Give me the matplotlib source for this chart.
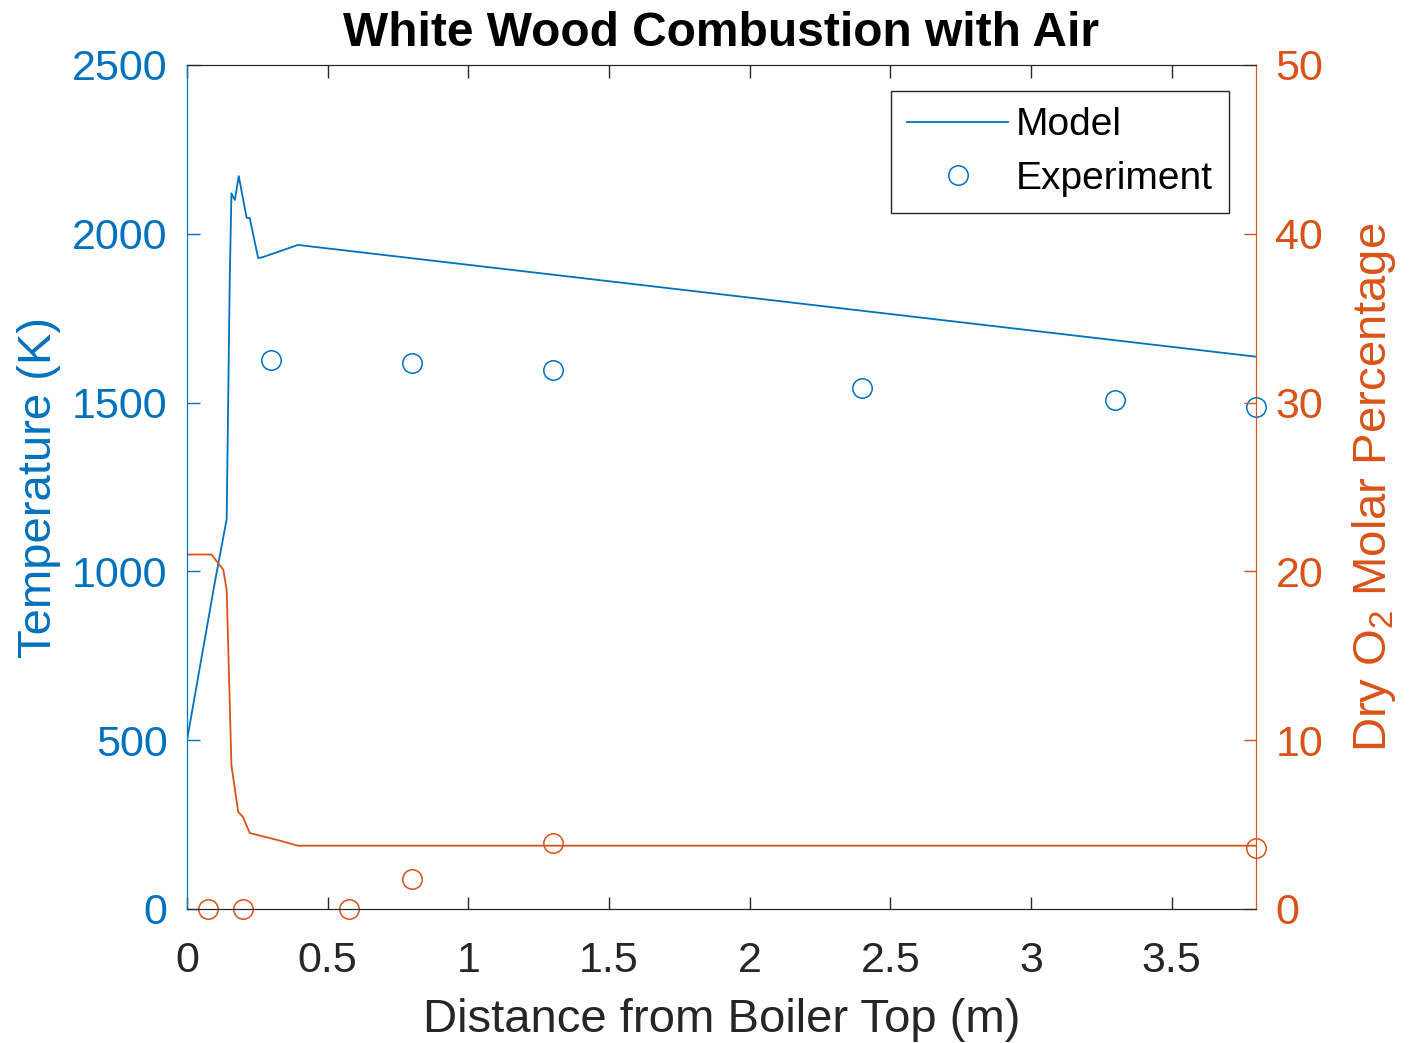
import numpy as np
import matplotlib
matplotlib.use('Agg')
import matplotlib.pyplot as plt
from matplotlib.ticker import FuncFormatter

plt.rcParams['font.family'] = ['Liberation Sans', 'DejaVu Sans']
plt.rcParams['mathtext.fontset'] = 'custom'
plt.rcParams['mathtext.rm'] = 'Liberation Sans'
plt.rcParams['mathtext.it'] = 'Liberation Sans'

# model profiles along the boiler
model_x_T = [0, 0.099, 0.141, 0.152, 0.158, 0.170, 0.184, 0.212, 0.223, 0.253, 0.270, 0.353, 0.394, 3.8]
model_T = [500, 968, 1155, 1868, 2120, 2100, 2171, 2047, 2047, 1928, 1931, 1955, 1967, 1636]
model_x_O2 = [0, 0.087, 0.129, 0.141, 0.158, 0.182, 0.199, 0.223, 0.330, 0.394, 3.8]
model_O2 = [21.0, 21.0, 20.1, 18.9, 8.5, 5.75, 5.45, 4.5, 4.05, 3.75, 3.75]

# measured points
exp_x_T = [0.3, 0.8, 1.3, 2.4, 3.3, 3.8]
exp_T = [1627, 1618, 1597, 1544, 1508, 1488]
exp_x_O2 = [0.075, 0.2, 0.575, 0.8, 1.3, 3.8]
exp_O2 = [0, 0, 0, 1.8, 3.9, 3.6]

blue = '#0072BD'
orange = '#D95319'
dark = '#262626'

fig = plt.figure(figsize=(14.14, 10.43), dpi=100)
ax = fig.add_axes([187/1414, 1-909/1043, (1256-187)/1414, (909-65)/1043])
ax2 = ax.twinx()

l1, = ax.plot(model_x_T, model_T, color=blue, lw=1.3, label='Model')
m1, = ax.plot(exp_x_T, exp_T, 'o', mfc='none', mec=blue, ms=14, mew=1.1,
              clip_on=False, label='Experiment')
ax2.plot(model_x_O2, model_O2, color=orange, lw=1.3)
ax2.plot(exp_x_O2, exp_O2, 'o', mfc='none', mec=orange, ms=14, mew=1.1, clip_on=False)

ax.set_xlim(0, 3.8)
ax.set_ylim(0, 2500)
ax2.set_ylim(0, 50)
ax.set_xticks(np.arange(0, 3.51, 0.5))
ax.set_yticks(np.arange(0, 2501, 500))
ax2.set_yticks(np.arange(0, 51, 10))
ax.xaxis.set_major_formatter(FuncFormatter(lambda v, p: '%g' % v))

ax.tick_params(axis='x', direction='in', length=9, width=1, colors=dark,
               labelsize=31, pad=23, top=True)
ax.tick_params(axis='y', direction='in', length=9, width=1, colors=blue,
               labelsize=31, pad=14)
ax2.tick_params(axis='y', direction='in', length=9, width=1, colors=orange,
                labelsize=31, pad=14)

for a in (ax, ax2):
    a.spines['top'].set_color(dark)
    a.spines['bottom'].set_color(dark)
    a.spines['left'].set_color(blue)
    a.spines['right'].set_color(orange)

ax.set_xlabel('Distance from Boiler Top (m)', fontsize=34, color=dark, labelpad=12)
ax.set_ylabel('Temperature (K)', fontsize=34, color=blue, labelpad=8)
ax2.set_ylabel('Dry O$_2$ Molar Percentage', fontsize=34, color=orange, labelpad=19)
ax.set_title('White Wood Combustion with Air', fontsize=34.5, fontweight='bold', pad=14)

leg = ax.legend(handles=[l1, m1], loc='upper right', bbox_to_anchor=(0.975, 0.969),
                fontsize=28, frameon=True, fancybox=False, framealpha=1,
                edgecolor=dark, handlelength=2.6, borderpad=0.42, labelspacing=0.45,
                handletextpad=0.2, borderaxespad=0)
leg.get_frame().set_linewidth(1.0)

fig.savefig('out.png', dpi=100)
